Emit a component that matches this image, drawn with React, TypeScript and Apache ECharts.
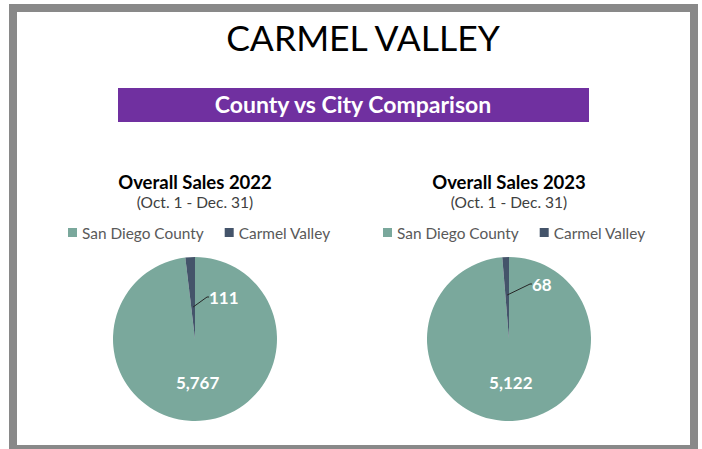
import React, { useEffect, useRef } from "react";
import * as echarts from "echarts";

const categories = ["San Diego County", "Carmel Valley"];
const sales2022 = [5767, 111];
const sales2023 = [5122, 68];
const pieTitles = ["Overall Sales 2022", "Overall Sales 2023"];
const pieSubtitle = "(Oct. 1 - Dec. 31)";
const mainTitle = "CARMEL VALLEY";
const bannerText = "County vs City Comparison";

const FONT = "Lato, 'Open Sans', sans-serif";
const COLORS = ["#7aa89c", "#44546a"];

export default function App() {
  const ref = useRef<HTMLDivElement>(null);
  useEffect(() => {
    if (!ref.current) return;
    const chart = echarts.init(ref.current, null, { renderer: "svg" });
    const centers = [
      [195, 339],
      [509, 339],
    ];
    const labelOffsets = [
      [14, -42],
      [23, -55],
    ];
    const anchorRadius = [32, 44];
    const labelBase = {
      formatter: (p: any) => p.value.toLocaleString("en-US"),
      color: "#ffffff",
      fontFamily: FONT,
      fontWeight: "bold",
      fontSize: 17,
    };
    // main pie: sectors + big-slice label
    const makePie = (idx: number, values: number[]) => ({
      type: "pie",
      name: pieTitles[idx],
      center: centers[idx],
      radius: 82,
      startAngle: 90,
      clockwise: true,
      silent: true,
      z: 2,
      color: COLORS,
      itemStyle: { borderWidth: 0 },
      data: categories.map((c, i) => ({
        name: c,
        value: values[i],
        label: { ...labelBase, show: i === 0, position: "inside" },
        labelLine: { show: false },
      })),
    });
    // overlay pie (transparent): small-slice label with leader line from inside the slice
    const makeOverlay = (idx: number, values: number[]) => ({
      type: "pie",
      name: pieTitles[idx] + " label",
      center: centers[idx],
      radius: anchorRadius[idx],
      startAngle: 90,
      clockwise: true,
      silent: true,
      z: 3,
      itemStyle: { color: "rgba(0,0,0,0)", borderWidth: 0 },
      data: categories.map((c, i) => ({
        name: c,
        value: values[i],
        label: { ...labelBase, show: i === 1, position: "outside" },
        labelLine:
          i === 1
            ? {
                show: true,
                showAbove: true,
                length: 6,
                length2: 2,
                lineStyle: { color: "#262626", width: 1 },
              }
            : { show: false },
      })),
      labelLayout: (params: any) => {
        if (params.dataIndex === 1) {
          return {
            x: centers[idx][0] + labelOffsets[idx][0],
            y: centers[idx][1] + labelOffsets[idx][1],
            align: "left",
            verticalAlign: "middle",
          };
        }
        return {};
      },
    });

    const legendBase = {
      data: categories,
      top: 220,
      itemWidth: 9,
      itemHeight: 9,
      itemGap: 21,
      icon: "rect",
      selectedMode: false,
      textStyle: { fontFamily: FONT, fontSize: 15.4, color: "#595959" },
    };

    chart.setOption({
      animation: false,
      backgroundColor: "#ffffff",
      title: [
        {
          text: mainTitle,
          left: 363,
          top: 19,
          padding: 0,
          textAlign: "center",
          textStyle: { fontFamily: FONT, fontSize: 35.5, fontWeight: "normal", color: "#000000" },
        },
        ...pieTitles.map((t, i) => ({
          text: t,
          subtext: pieSubtitle,
          left: centers[i][0],
          top: 172,
          padding: 0,
          textAlign: "center",
          itemGap: 3,
          textStyle: { fontFamily: FONT, fontSize: 18.5, fontWeight: "bold", color: "#000000" },
          subtextStyle: { fontFamily: FONT, fontSize: 15.5, color: "#404040" },
        })),
      ],
      legend: [
        { ...legendBase, left: 63 },
        { ...legendBase, left: 378 },
      ],
      graphic: [
        {
          type: "rect",
          z: -10,
          shape: { x: 9, y: 4, width: 689, height: 460 },
          style: { fill: "#898989" },
          silent: true,
        },
        {
          type: "rect",
          z: -9,
          shape: { x: 17, y: 12, width: 673, height: 433 },
          style: { fill: "#ffffff" },
          silent: true,
        },
        {
          type: "rect",
          shape: { x: 118, y: 88, width: 471, height: 34 },
          style: { fill: "#7030a0" },
          silent: true,
        },
        {
          type: "text",
          x: 353,
          y: 104,
          style: {
            text: bannerText,
            fill: "#ffffff",
            font: `bold 23px ${FONT}`,
            align: "center",
            verticalAlign: "middle",
          },
          silent: true,
        },
      ],
      series: [
        makePie(0, sales2022),
        makePie(1, sales2023),
        makeOverlay(0, sales2022),
        makeOverlay(1, sales2023),
      ],
    });
    return () => chart.dispose();
  }, []);
  return (
    <div
      ref={ref}
      style={{ position: "fixed", left: 0, top: 0, width: 702, height: 449 }}
    />
  );
}
